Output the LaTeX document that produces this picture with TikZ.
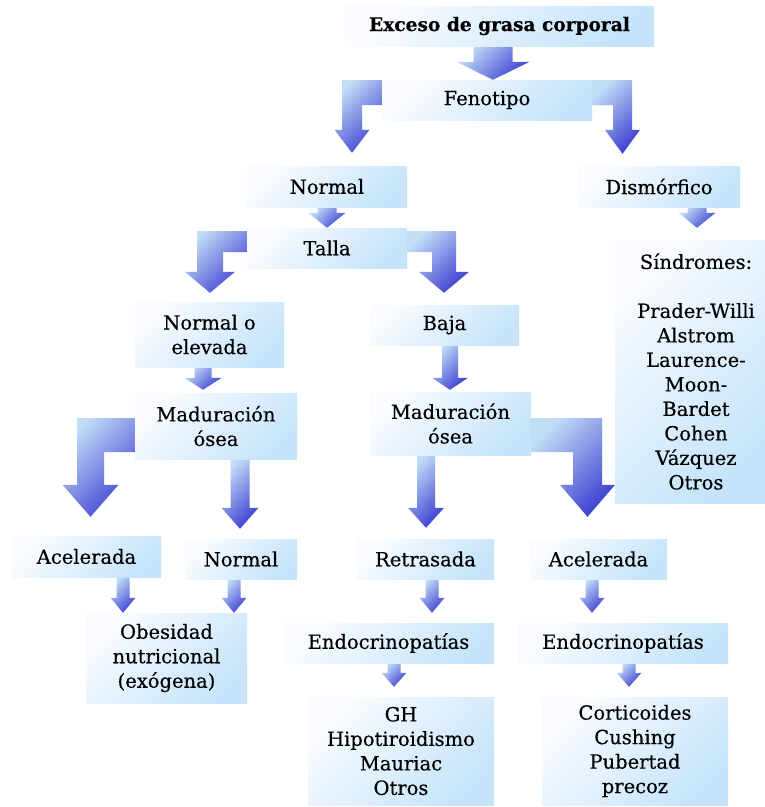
\documentclass[tikz,border=0pt]{standalone}
\usepackage{fontspec}
\setmainfont[FakeBold=0.4]{DejaVu Serif}
\usetikzlibrary{calc,backgrounds}
\definecolor{boxA}{HTML}{FAFCFF}
\definecolor{boxB}{HTML}{C5E4FA}
\definecolor{arrA}{HTML}{C2DEF7}
\definecolor{arrB}{HTML}{3E40D2}
\tikzset{
  box/.style={left color=boxA, right color=boxB, shading angle=45, inner sep=0pt,
    align=center, font=\fontsize{19.5}{24.5}\selectfont},
  arrowshade/.style={left color=arrA, right color=arrB, shading angle=45},
}
% box: name, x1, y1, x2, y2 (pixels, y down), text
\newcommand\bx[6]{\node[box, minimum width={(#4-#2)*1pt}, minimum height={(#5-#3)*1pt}]
  (#1) at ({(#2+#4)/2},{(#3+#5)/2}) {#6};}
% straight block arrow: x, from, to, shaft half, head half, head length, gap
\newcommand\sarr[7]{\path[arrowshade] let \p1=(#2.south), \p2=(#3.north) in
  ({(#1-#4)*1pt},\y1) -- ({(#1+#4)*1pt},\y1) -- ({(#1+#4)*1pt},{\y2+#7pt+#6pt})
  -- ({(#1+#5)*1pt},{\y2+#7pt+#6pt}) -- ({#1*1pt},{\y2+#7pt})
  -- ({(#1-#5)*1pt},{\y2+#7pt+#6pt}) -- ({(#1-#4)*1pt},{\y2+#7pt+#6pt}) -- cycle;}
% bent block arrow: from anchor, to node, bar top, bar bottom, outer x, inner x, head half, head length, gap
\newcommand\barr[9]{\path[arrowshade] let \p1=(#1), \p2=(#2.north), \n1={(#5+#6)/2}, \n2={sign(#5-#6)} in
  (\x1,{-#3pt}) -- ({#5pt},{-#3pt}) -- ({#5pt},{\y2+#9pt+#8pt})
  -- ({(\n1+\n2*#7)*1pt},{\y2+#9pt+#8pt}) -- ({\n1*1pt},{\y2+#9pt})
  -- ({(\n1-\n2*#7)*1pt},{\y2+#9pt+#8pt}) -- ({#6pt},{\y2+#9pt+#8pt})
  -- ({#6pt},{-#4pt}) -- (\x1,{-#4pt}) -- cycle;}
\begin{document}
\begin{tikzpicture}[x=1pt,y=-1pt]
\useasboundingbox (0,0) rectangle (765,807);
\node[box, font=\fontsize{18.6}{24}\selectfont\bfseries, minimum width=309pt, minimum height=40pt]
  (exc) at (499.5,26) {Exceso de grasa corporal};
\bx{fen}{382}{80}{592}{120}{Fenotipo}
\bx{norm}{247}{166}{407}{207}{Normal}
\bx{dism}{578}{166}{740}{207}{Dismórfico}
\bx{talla}{247}{228}{407}{268}{Talla}
\bx{noe}{135}{302}{284}{367}{Normal o\\elevada}
\bx{baja}{370}{305}{519}{345}{Baja}
\bx{madL}{135}{393}{297}{459}{Maduración\\ósea}
\bx{madR}{370}{392}{531}{455}{Maduración\\ósea}
\bx{sind}{615}{240}{765}{503}{\hspace*{12pt}Síndromes:\\[24.5pt]\hspace*{12pt}Prader-Willi\\\hspace*{12pt}Alstrom\\\hspace*{12pt}Laurence-\\\hspace*{12pt}Moon-\\\hspace*{12pt}Bardet\\\hspace*{12pt}Cohen\\\hspace*{12pt}Vázquez\\\hspace*{12pt}Otros}
\bx{acelL}{12}{536}{161}{577}{Acelerada}
\bx{normB}{185}{539}{297}{579}{Normal}
\bx{retr}{357}{539}{494}{579}{Retrasada}
\bx{acelR}{530}{539}{667}{579}{Acelerada}
\bx{obes}{86}{613}{247}{703}{Obesidad\\nutricional\\(exógena)}
\bx{endoL}{283}{623}{494}{663}{Endocrinopatías}
\bx{endoR}{518}{623}{728}{663}{Endocrinopatías}
\bx{gh}{308}{697}{494}{805}{GH\\Hipotiroidismo\\Mauriac\\Otros}
\bx{cort}{542}{697}{728}{805}{Corticoides\\Cushing\\Pubertad\\precoz}
\begin{scope}[on background layer]
\fill[white] (0,0) rectangle (765,807);
% straight arrows
\sarr{493}{exc}{fen}{19.5}{36.5}{18}{0}
\sarr{327}{norm}{talla}{9.5}{18.5}{15}{0}
\sarr{697}{dism}{sind}{9.5}{18.5}{15}{12}
\sarr{203}{noe}{madL}{8.5}{18.5}{12}{3}
\sarr{450}{baja}{madR}{8}{18}{12}{2}
\sarr{240}{madL}{normB}{9.5}{18.5}{21}{10}
\sarr{426}{madR}{retr}{9}{18}{20}{11}
\sarr{123}{acelL}{obes}{6.5}{12.5}{15}{0}
\sarr{234}{normB}{obes}{6.5}{12.5}{15}{0}
\sarr{432}{retr}{endoL}{6.5}{12.5}{15}{10}
\sarr{592}{acelR}{endoR}{6.5}{12.5}{15}{10}
\sarr{394}{endoL}{gh}{6.5}{12.5}{14}{10}
\sarr{629}{endoR}{cort}{6.5}{12.5}{14}{10}
% bent arrows
\barr{fen.west}{norm}{80}{105}{342}{362}{17.5}{23}{13}
\barr{fen.east}{dism}{80}{105}{632}{613}{17.5}{24}{12}
\barr{talla.west}{noe}{231}{252}{197}{223}{25}{21}{9}
\barr{talla.east}{baja}{231}{252}{456}{432}{25}{21}{12}
\barr{madL.west}{acelL}{418}{452}{77}{104}{28}{32}{19}
\barr{madR.east}{acelR}{418}{452}{602}{573}{27.5}{32}{22}
\end{scope}
\end{tikzpicture}
\end{document}
